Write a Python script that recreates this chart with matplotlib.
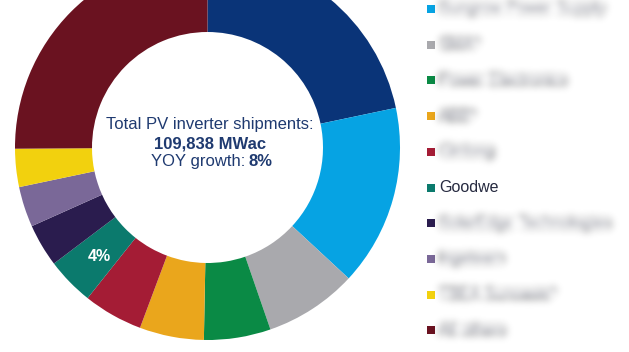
import numpy as np
import matplotlib
matplotlib.use("Agg")
import matplotlib.pyplot as plt
from matplotlib.patches import Rectangle

plt.rcParams['font.family'] = ['Liberation Sans', 'DejaVu Sans']

# Market share of PV inverter shipments by vendor (%)
vendors = ["Huawei", "Sungrow Power Supply", "SMA*", "Power Electronics", "ABB*",
           "Ginlong", "Goodwe", "SolarEdge Technologies", "Ingeteam",
           "TBEA Sunoasis*", "All others"]
shares = [21.7, 15.2, 7.8, 5.6, 5.4, 5.0, 4.0, 3.6, 3.4, 3.2, 25.1]
colors = ["#0a3478", "#06a3e3", "#a9a9ad", "#0a8a45", "#eaa61c", "#a41c35",
          "#0b7a6d", "#2a1c4e", "#7a6898", "#f2d10e", "#6a1220"]
labelled = ["Goodwe"]          # wedges that carry a percentage label
sharp_legend = ["Goodwe"]      # legend entries left unblurred

total_mwac = "109,838 MWac"
yoy_growth = "8%"

W, H = 629, 352
fig = plt.figure(figsize=(W / 100, H / 100), dpi=100)

# donut placement in pixels
cx, cy, R = 207.5, 147.5, 192.5
ax = fig.add_axes([(cx - R) / W, (H - cy - R) / H, 2 * R / W, 2 * R / H])

inner = 0.6
wedges, _ = ax.pie(shares, colors=colors, startangle=90, counterclock=False,
                   radius=1.0, wedgeprops=dict(width=1 - inner, linewidth=0))
ax.set_xlim(-1, 1)
ax.set_ylim(-1, 1)
ax.axis("off")

# percentage label inside selected wedges
for w, name, val in zip(wedges, vendors, shares):
    if name in labelled:
        ang = np.deg2rad((w.theta1 + w.theta2) / 2)
        r = (1 + inner) / 2
        ax.text(r * np.cos(ang) + 0.01, r * np.sin(ang) - 0.01, f"{val:.0f}%",
                color="white", fontsize=11.5, fontweight="bold",
                ha="center", va="center")

# center annotation
navy = "#1f3a70"
fs = 12
ax.text(0.01, 0.122, "Total PV inverter shipments:", color=navy, fontsize=fs,
        ha="center", va="center")
ax.text(0.013, 0.018, total_mwac, color=navy, fontsize=fs, fontweight="bold",
        ha="center", va="center")
ax.text(0.197, -0.074, "YOY growth:", color=navy, fontsize=fs,
        ha="right", va="center")
ax.text(0.215, -0.074, yoy_growth, color=navy, fontsize=fs, fontweight="bold",
        ha="left", va="center")


def gaussian_blur(sigma):
    def _filter(im, dpi):
        s = sigma * dpi / 100.0
        pad = int(np.ceil(3 * s)) + 1
        src = np.pad(im, [(pad, pad), (pad, pad), (0, 0)], "constant")
        x = np.arange(-pad, pad + 1)
        k = np.exp(-0.5 * (x / s) ** 2)
        k /= k.sum()
        out = np.zeros_like(src)
        for i, kv in enumerate(k):
            out += kv * np.roll(src, i - pad, axis=0)
        src = out
        out = np.zeros_like(src)
        for i, kv in enumerate(k):
            out += kv * np.roll(src, i - pad, axis=1)
        return out, -pad, -pad
    return _filter


# legend, one row per vendor (rows above the top edge are skipped)
leg_x = 431
row_gap = 35.7
first_y = 9 - row_gap
msize = 8
for i, (name, col) in enumerate(zip(vendors, colors)):
    y = first_y + i * row_gap
    if y < 0:
        continue
    fig.add_artist(Rectangle(((leg_x - msize / 2) / W, (H - y - msize / 2) / H),
                             msize / W, msize / H, transform=fig.transFigure,
                             facecolor=col, edgecolor="none"))
    t = fig.text((leg_x + 8) / W, (H - y) / H, name, color="#262a40",
                 fontsize=11.5, ha="left", va="center")
    if name not in sharp_legend:
        t.set_agg_filter(gaussian_blur(4.0))

fig.savefig("out.png", dpi=100, facecolor="white")
